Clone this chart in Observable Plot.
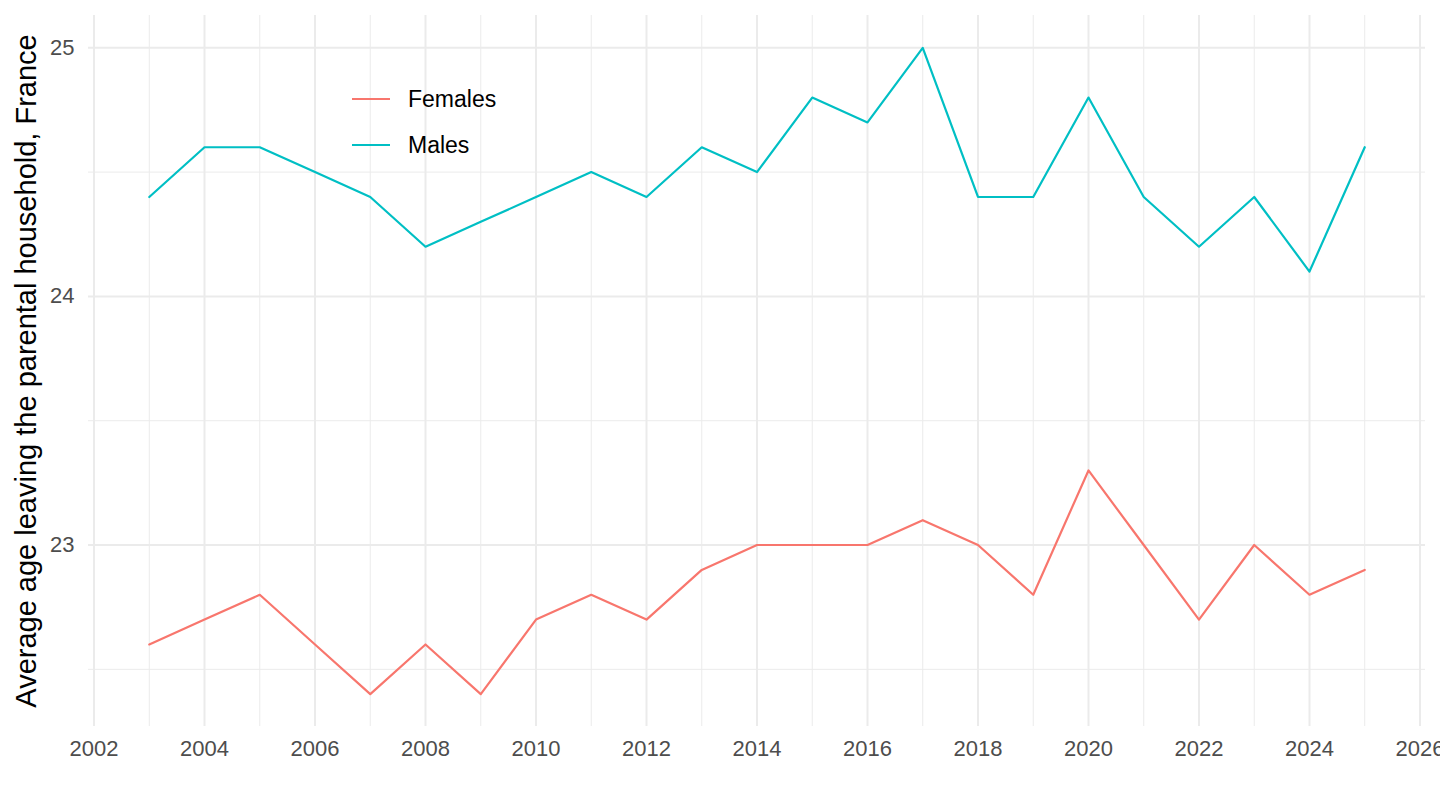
<!DOCTYPE html>
<html>
<head>
<meta charset="utf-8">
<script src="https://cdn.jsdelivr.net/npm/d3@7"></script>
<script src="https://cdn.jsdelivr.net/npm/@observablehq/plot@0.6"></script>
<style>
  html, body { margin: 0; padding: 0; background: #fff; }
  #wrap { position: relative; width: 1440px; height: 810px; font-family: "Liberation Sans", Arial, Helvetica, sans-serif; }
  #legend { position: absolute; left: 352px; top: 76px; }
  .row { display: flex; align-items: center; height: 46px; }
  .sw { width: 38px; height: 2px; margin-right: 18px; }
  .lab { font-size: 23px; color: #000; }
</style>
</head>
<body>
<div id="wrap"></div>
<script>
const years = [2003,2004,2005,2006,2007,2008,2009,2010,2011,2012,2013,2014,2015,2016,2017,2018,2019,2020,2021,2022,2023,2024,2025];
const females = [22.6,22.7,22.8,22.6,22.4,22.6,22.4,22.7,22.8,22.7,22.9,23.0,23.0,23.0,23.1,23.0,22.8,23.3,23.0,22.7,23.0,22.8,22.9];
const males = [24.4,24.6,24.6,24.5,24.4,24.2,24.3,24.4,24.5,24.4,24.6,24.5,24.8,24.7,25.0,24.4,24.4,24.8,24.4,24.2,24.4,24.1,24.6];
const seriesNames = ["Females", "Males"];
const seriesColors = ["#F8766D", "#00BFC4"];
const xMajor = [2002,2004,2006,2008,2010,2012,2014,2016,2018,2020,2022,2024,2026];
const xMinor = [2003,2005,2007,2009,2011,2013,2015,2017,2019,2021,2023,2025];
const yMajor = [23, 24, 25];
const yMinor = [22.5, 23.5, 24.5];
const yTitle = "Average age leaving the parental household, France";

const data = [
  ...years.map((y, i) => ({year: y, value: females[i], sex: "Females"})),
  ...years.map((y, i) => ({year: y, value: males[i], sex: "Males"}))
];

const allVals = females.concat(males);
const ymin = d3.min(allVals), ymax = d3.max(allVals);
const xmin = d3.min(years), xmax = d3.max(years);
const ypad = (ymax - ymin) * 0.05, xpad = (xmax - xmin) * 0.05;

const chart = Plot.plot({
  width: 1440,
  height: 810,
  marginLeft: 88,
  marginRight: 15,
  marginTop: 15,
  marginBottom: 84,
  style: {fontFamily: '"Liberation Sans", Arial, Helvetica, sans-serif', background: "#fff"},
  x: {domain: [xmin - xpad, xmax + xpad]},
  y: {domain: [ymin - ypad, ymax + ypad]},
  color: {domain: seriesNames, range: seriesColors},
  marks: [
    Plot.ruleX(xMinor, {stroke: "#ebebeb", strokeWidth: 1}),
    Plot.ruleY(yMinor, {stroke: "#ebebeb", strokeWidth: 1}),
    Plot.ruleX(xMajor, {stroke: "#ebebeb", strokeWidth: 2}),
    Plot.ruleY(yMajor, {stroke: "#ebebeb", strokeWidth: 2}),
    Plot.line(data, {x: "year", y: "value", stroke: "sex", z: "sex", strokeWidth: 2.2}),
    Plot.axisX({ticks: xMajor, tickSize: 0, tickPadding: 14, tickFormat: d => String(d), fontSize: 22, fill: "#4d4d4d", label: null}),
    Plot.axisY({ticks: yMajor, tickSize: 0, tickPadding: 14, tickFormat: d => String(d), fontSize: 22, fill: "#4d4d4d", label: null}),
    Plot.text([yTitle], {text: d => d, frameAnchor: "left", rotate: -90, dx: -62, fontSize: 29, fill: "#000", textAnchor: "middle"})
  ]
});

const wrap = document.getElementById("wrap");
wrap.appendChild(chart);

const legend = document.createElement("div");
legend.id = "legend";
seriesNames.forEach((n, i) => {
  const row = document.createElement("div");
  row.className = "row";
  const sw = document.createElement("div");
  sw.className = "sw";
  sw.style.background = seriesColors[i];
  const lab = document.createElement("span");
  lab.className = "lab";
  lab.textContent = n;
  row.appendChild(sw);
  row.appendChild(lab);
  legend.appendChild(row);
});
wrap.appendChild(legend);
</script>
</body>
</html>
